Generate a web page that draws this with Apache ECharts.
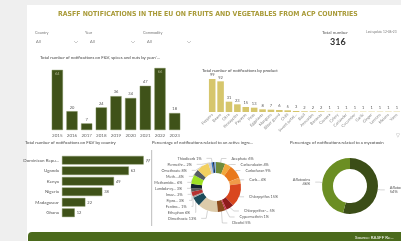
<!DOCTYPE html>
<html>
<head>
<meta charset="utf-8">
<script src="https://cdn.jsdelivr.net/npm/echarts@6/dist/echarts.min.js"></script>
<style>
  html, body { margin: 0; padding: 0; background: #efefef; }
  #main { width: 401px; height: 241px; }
</style>
</head>
<body>
<div id="main"></div>
<script>
// notifications per year
var years = ['2015', '2016', '2017', '2018', '2019', '2020', '2021', '2022', '2023'];
var yearCounts = [64, 20, 7, 24, 36, 34, 47, 66, 18];

// notifications per product
var products = ['Peppers', 'Beans', 'Okra', 'Pineapples', 'Papayas', 'Peas', 'Eggplants', 'Mangoes',
  'Bitter gourd', 'Chilli', 'Sweet potat...', 'Basil', 'Avocados', 'Bananas', 'Cassava', 'Celery',
  'Coriander', 'Cucumber', 'Garlic', 'Ginger', 'Lemons', 'Melons', 'Yams'];
var productCounts = [99, 92, 31, 23, 15, 13, 8, 7, 6, 5, 3, 2, 2, 2, 1, 1, 1, 1, 1, 1, 1, 1, 1];

// notifications per country
var countries = ['Dominican Repu...', 'Uganda', 'Kenya', 'Nigeria', 'Madagascar', 'Ghana'];
var countryCounts = [77, 63, 49, 38, 22, 12];

// active ingredients (%)
var ingredients = ['Acephate', 'Carbendazim', 'Carbofuran', 'Carb...', 'Chlorpyrifos', 'Chlorpyrifos-...',
  'Cypermethrin', 'Dicofol', 'Dimethoate', 'Ethephon', 'Fenitro...', 'Fipro...', 'Imaz...', 'Lambda-cy...',
  'Methamido...', 'Meth...', 'Omethoate', 'Permethr...', 'Thiodicarb', 'Triazo...', 'Zeta...'];
var ingredientShares = [6, 4, 9, 4, 15, 5, 1, 5, 13, 6, 1, 3, 2, 3, 6, 4, 8, 2, 1, 1, 1];
var ingredientColors = ['#6f8c3b', '#f2a93b', '#e9791c', '#f09a48', '#d9471e', '#8f1c1c',
  '#c9344f', '#8b4a1c', '#dccbaa', '#1c4b5a', '#9ea3a3', '#b73232', '#5a5a5a', '#14222f',
  '#9fe025', '#545c63', '#f2d060', '#cccccc', '#3673c2', '#1b2b42', '#8fb3d9'];

// mycotoxins (%)
var toxins = ['Aflatoxin B1', 'Aflatoxins'];
var toxinShares = [54, 46];

var chart = echarts.init(document.getElementById('main'), null, { renderer: 'canvas' });

var txt = '#555';
var small = 4.5;

function label(x, y, text, size, color, weight, font) {
  return {
    type: 'text', left: x, top: y, silent: true,
    style: { text: text, fontSize: size, fill: color || txt, fontWeight: weight || 'normal',
      fontFamily: font || 'Lato' }
  };
}

var graphics = [
  // white dashboard panel
  { type: 'rect', shape: { x: 27, y: 5, width: 380, height: 240 }, style: { fill: '#fff' }, z: -10 },
  // bottom band
  { type: 'rect', shape: { x: 28, y: 232, width: 380, height: 12, r: [4, 0, 0, 0] }, style: { fill: '#4b6a1c' } },
  label(355, 235.5, 'Source: RASFF Re...', 4.5, '#fff'),
  // header
  label(58, 11, 'RASFF NOTIFICATIONS IN THE EU ON FRUITS AND VEGETABLES FROM ACP COUNTRIES', 6.9,
    '#a99b39', 'bold', 'DejaVu Sans Condensed'),
  label(35, 31, 'Country', 3.8, '#777'),
  label(36, 40, 'All', 4, '#777'),
  label(85, 31, 'Year', 3.8, '#777'),
  label(90, 40, 'All', 4, '#777'),
  label(143, 31, 'Commodity', 3.8, '#777'),
  label(147, 40, 'All', 4, '#777'),
  { type: 'polyline', shape: { points: [[74, 41], [76, 43], [78, 41]] }, style: { stroke: '#aaa', lineWidth: 0.6, fill: null } },
  { type: 'polyline', shape: { points: [[131, 41], [133, 43], [135, 41]] }, style: { stroke: '#aaa', lineWidth: 0.6, fill: null } },
  { type: 'polyline', shape: { points: [[187, 41], [189, 43], [191, 41]] }, style: { stroke: '#aaa', lineWidth: 0.6, fill: null } },
  label(322, 30, 'Total number', 4.5, '#555'),
  label(330, 38, '316', 9, '#333', 'bold'),
  label(366, 30, 'Last update 12-06-23', 3.2, '#777'),
  // chart titles
  label(40, 56, 'Total number of notifications on F&V, spices and nuts by year/...', 4.3, '#444'),
  label(202, 69, 'Total number of notifications by product', 4.3, '#444'),
  label(25, 141, 'Total number of notifications on F&V by country', 4.3, '#444'),
  label(152, 141, 'Percentage of notifications related to an active ingre...', 4.3, '#444'),
  label(290, 141, 'Percentage of notifications related to a mycotoxin', 4.3, '#444'),
  label(396, 133, '\u25BD', 4.5, '#999'),
  // scrollbar next to the donut
  { type: 'rect', shape: { x: 151, y: 150, width: 1.2, height: 76 }, style: { fill: '#c8c8c8' } },
  label(146, 160, '??', 3.5, '#999')
];

chart.setOption({
  animation: false,
  backgroundColor: 'transparent',
  textStyle: { fontFamily: 'Lato' },
  graphic: graphics,
  grid: [
    { left: 50, top: 68, width: 132, height: 62 },
    { left: 208, top: 79, right: 0, height: 33 },
    { left: 62, top: 155, width: 88, height: 63 }
  ],
  xAxis: [
    {
      gridIndex: 0, type: 'category', data: years,
      axisLine: { show: false }, axisTick: { show: false },
      axisLabel: { fontSize: small, color: '#666', margin: 3 }
    },
    {
      gridIndex: 1, type: 'category', data: products,
      axisLine: { show: false }, axisTick: { show: false },
      axisLabel: { fontSize: 4, color: '#888', margin: 2, rotate: 45, interval: 0 }
    },
    { gridIndex: 2, type: 'value', max: 83, show: false }
  ],
  yAxis: [
    { gridIndex: 0, type: 'value', max: 66, show: false },
    { gridIndex: 1, type: 'value', max: 99, show: false },
    {
      gridIndex: 2, type: 'category', data: countries, inverse: true,
      axisLine: { show: false }, axisTick: { show: false },
      axisLabel: { fontSize: small, color: '#555', margin: 3 }
    }
  ],
  series: [
    {
      type: 'bar', xAxisIndex: 0, yAxisIndex: 0, barCategoryGap: '24%',
      itemStyle: { color: '#3f5219', borderColor: '#7f8f5a', borderWidth: 0.4 },
      data: yearCounts.map(function (v) {
        return { value: v, label: { position: v > 60 ? 'insideTop' : 'top', color: v > 60 ? '#aab08a' : '#555' } };
      }),
      label: { show: true, fontSize: 4, distance: 2 }
    },
    {
      type: 'bar', xAxisIndex: 1, yAxisIndex: 1, data: productCounts, barCategoryGap: '22%',
      itemStyle: { color: '#d6c66c' },
      label: { show: true, position: 'top', fontSize: 4, color: '#555', distance: 2 }
    },
    {
      type: 'bar', xAxisIndex: 2, yAxisIndex: 2, data: countryCounts, barCategoryGap: '18%',
      itemStyle: { color: '#3f5219', borderColor: '#7f8f5a', borderWidth: 0.4 },
      label: { show: true, position: 'right', fontSize: 4, color: '#555', distance: 2 }
    },
    {
      type: 'pie', center: [216, 187], radius: [14, 25], percentPrecision: 0,
      data: ingredients.map(function (n, i) {
        return {
          name: n, value: ingredientShares[i],
          itemStyle: { color: ingredientColors[i] },
          label: { show: i < 19 }, labelLine: { show: i < 19 }
        };
      }),
      label: { fontSize: 3.8, color: '#555', formatter: '{b} {d}%' },
      labelLine: { length: 4, length2: 5, lineStyle: { width: 0.5, color: '#aaa' } }
    },
    {
      type: 'pie', center: [350, 186], radius: [17, 28], percentPrecision: 0,
      data: toxins.map(function (n, i) {
        return { name: n, value: toxinShares[i], itemStyle: { color: i === 0 ? '#3b4d17' : '#6b8e23' } };
      }),
      label: { fontSize: 4, color: '#555', formatter: '{b}\n{d}%', overflow: 'none', minMargin: 0 },
      labelLine: { length: 3, length2: 4, lineStyle: { width: 0.5, color: '#aaa' } },
      labelLayout: { hideOverlap: false }
    }
  ]
});
</script>
</body>
</html>
